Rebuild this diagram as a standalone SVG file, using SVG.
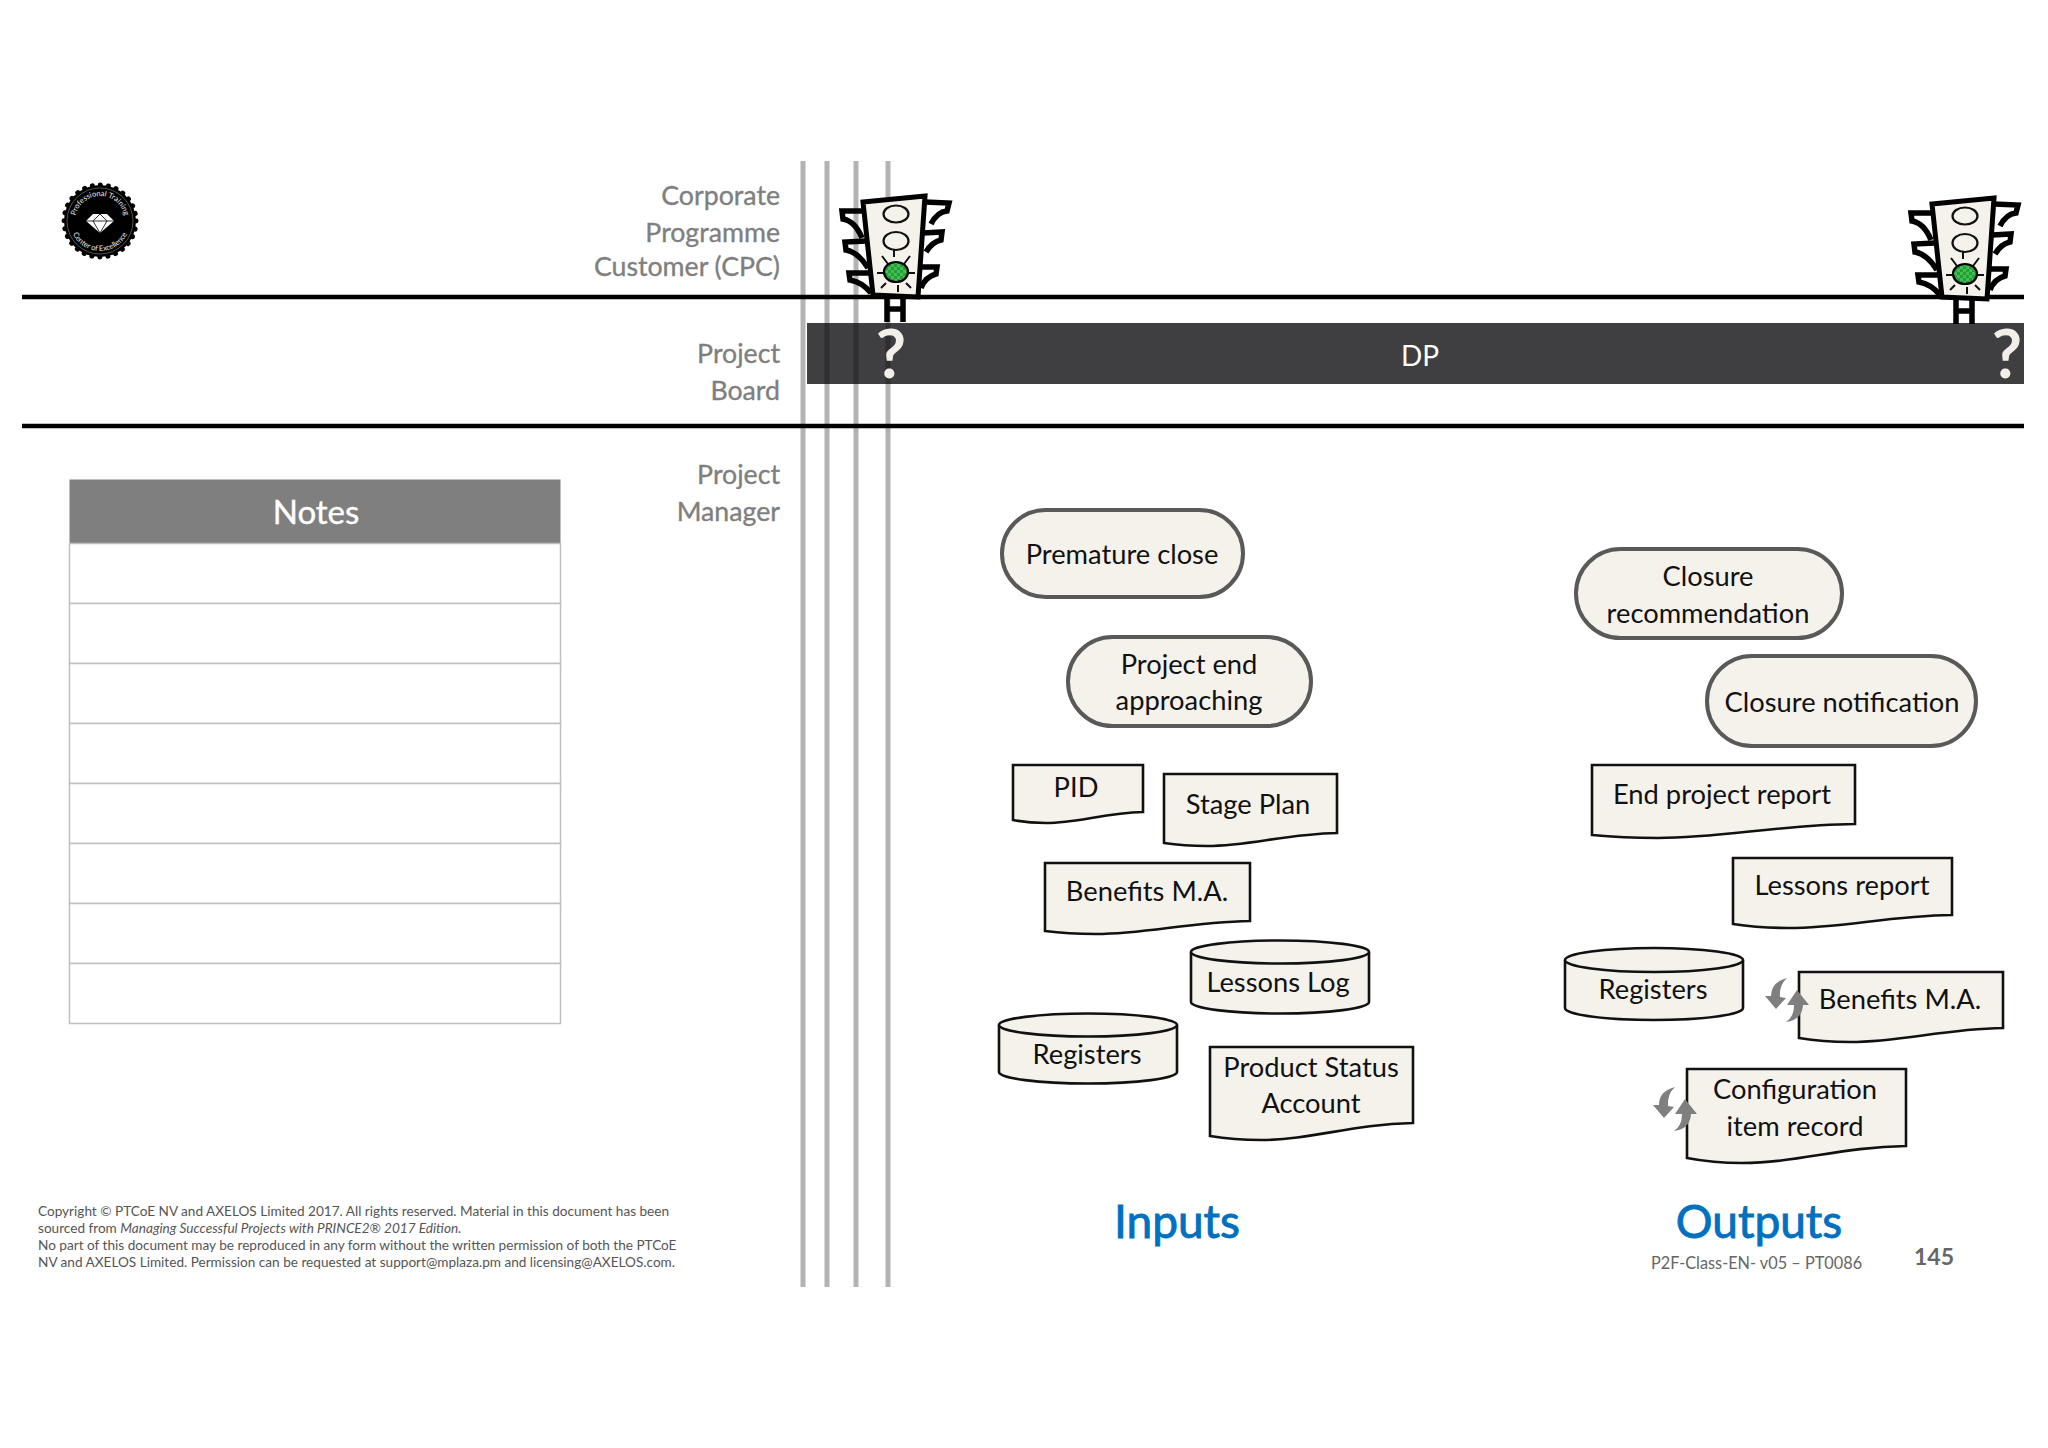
<svg xmlns="http://www.w3.org/2000/svg" xmlns:xlink="http://www.w3.org/1999/xlink" width="2048" height="1448" viewBox="0 0 2048 1448">
<style>
text{font-family:"Lato","Liberation Sans",sans-serif}
.t{font-size:27.3px;fill:#111;text-anchor:middle}
.lab{font-size:26.700px;fill:#7f7f7f;text-anchor:end;stroke:#7f7f7f;stroke-width:.35}
.term{fill:#f5f2ec;stroke:#595959;stroke-width:4}
.doc{fill:#f5f2ec;stroke:#111;stroke-width:2.6}
.big{font-size:46px;fill:#0070c0;text-anchor:middle;stroke:#0070c0;stroke-width:.9}
.copy{font-size:13.6px;fill:#555}
.v{stroke:#b3b3b3;stroke-width:5}
.vd{stroke:#2f2e30;stroke-width:5}
.row{fill:#fff;stroke:#bfbfbf;stroke-width:1.5}
.k{fill:none;stroke:#000;stroke-width:5.5;stroke-linejoin:miter}
.ray{stroke:#111;stroke-width:2;fill:none}
.q{font-size:66px;font-weight:700;fill:#f2efe8;text-anchor:middle}
.rf{fill:#7f7f7f}
</style>
<defs>
<pattern id="chk" width="6" height="6" patternUnits="userSpaceOnUse"><rect width="6" height="6" fill="#3cc24f"/><rect width="3" height="3" fill="#2a9a3c"/><rect x="3" y="3" width="3" height="3" fill="#2a9a3c"/></pattern>
<g id="light">
<path class="k" d="M864,211 L842,211 L843,219 Q855,221 862,238"/>
<path class="k" d="M866,241 L845,242 L846,250 Q858,252 868,268"/>
<path class="k" d="M869,273 L849,273 L850,280 Q862,282 871,293"/>
<path class="k" d="M925,202 L949,203 L947,211 Q937,212 931,224"/>
<path class="k" d="M923,233 L942,232 L941,240 Q932,242 926,252"/>
<path class="k" d="M921,267 L937,267 L936,274 Q925,277 921,288"/>
<path d="M887,297V322M903,297V322M887,309H903" class="k"/>
<path d="M863,202 L925,196 L918,297 L873,295 Z" fill="#f5f2ec" stroke="#000" stroke-width="5"/>
<ellipse cx="896" cy="214" rx="12.5" ry="8.5" fill="#f5f2ec" stroke="#111" stroke-width="2.2"/>
<ellipse cx="896" cy="241" rx="12.5" ry="9" fill="#f5f2ec" stroke="#111" stroke-width="2.2"/>
<path class="ray" d="M894,250V257M882,256L888,264M910,256L904,264M877,273H883M909,273H915M886,283L881,288M906,283L911,288M898,285V292"/>
<ellipse cx="896" cy="272" rx="12" ry="10" fill="url(#chk)" stroke="#000" stroke-width="2.2"/>
</g>
<g id="refresh">
<path class="rf" d="M1788,978 Q1772,982 1772,996 L1766,996 L1777,1009 L1787,998 L1781,997 Q1780,985 1788,978Z"/>
<path class="rf" d="M1798,990 L1788,1005 L1795,1005 Q1795,1017 1787,1022 Q1803,1020 1804,1005 L1810,1005Z"/>
</g>
<path id="arcTop" d="M75,221 A25,25 0 1 1 125,221"/>
<path id="arcBot" d="M70,221 A30,30 0 0 0 130,221"/>
</defs>
<rect width="2048" height="1448" fill="#fff"/>
<g id="lanes">
<path class="v" d="M803,161V1287M827,161V1287M856,161V1287M888,161V1287"/>
<rect x="807" y="323" width="1217" height="61" fill="#3f3e40"/>
<path class="vd" d="M827,323V384M856,323V384M888,323V384"/>
<path d="M22,297H2024M22,426H2024" stroke="#000" stroke-width="4.500"/>
</g>
<g id="logo">
<circle cx="100" cy="221" r="36" fill="#000"/>
<circle cx="100" cy="221" r="36" fill="none" stroke="#000" stroke-width="5" stroke-linecap="round" stroke-dasharray="0.1 7.98"/>
<circle cx="100" cy="221" r="33" fill="none" stroke="#888" stroke-width="0.6"/>
<text font-size="7.500" fill="#eee" text-anchor="middle"><textPath xlink:href="#arcTop" href="#arcTop" startOffset="50%">Professional Training</textPath></text>
<text font-size="7.500" fill="#eee" text-anchor="middle"><textPath xlink:href="#arcBot" href="#arcBot" startOffset="50%">Center of Excellence</textPath></text>
<path d="M93,214H107L114,221L100,233L86,221Z" fill="#fff"/>
<path d="M86,221H114M93,221L100,214L107,221L100,233L93,221" stroke="#000" stroke-width="0.8" fill="none"/>
</g>
<g id="swimlane-labels">
<text class="lab" x="780" y="205">Corporate</text>
<text class="lab" x="780" y="242">Programme</text>
<text class="lab" x="780" y="276">Customer (CPC)</text>
<text class="lab" x="780" y="363">Project</text>
<text class="lab" x="780" y="400">Board</text>
<text class="lab" x="780" y="484">Project</text>
<text class="lab" x="780" y="521">Manager</text>
</g>
<g id="notes">
<rect x="69.500" y="479.500" width="491" height="64" fill="#7f7f7f"/>
<text x="316" y="524" font-size="33" fill="#fff" stroke="#fff" stroke-width=".4" text-anchor="middle">Notes</text>
<rect class="row" x="69.500" y="543.500" width="491" height="60"/>
<rect class="row" x="69.500" y="603.500" width="491" height="60"/>
<rect class="row" x="69.500" y="663.500" width="491" height="60"/>
<rect class="row" x="69.500" y="723.500" width="491" height="60"/>
<rect class="row" x="69.500" y="783.500" width="491" height="60"/>
<rect class="row" x="69.500" y="843.500" width="491" height="60"/>
<rect class="row" x="69.500" y="903.500" width="491" height="60"/>
<rect class="row" x="69.500" y="963.500" width="491" height="60"/>
</g>
<g id="light-start"><use href="#light"/><text class="q" x="891" y="378">?</text></g>
<g id="light-end"><use href="#light" x="1069" y="2"/><text class="q" x="2007" y="378">?</text></g>
<text id="dp" x="1420" y="366" font-size="28" fill="#fff" text-anchor="middle">DP</text>
<g id="premature-close"><rect class="term" x="1002" y="510" width="241" height="87" rx="43.500"/><text class="t" x="1122" y="564">Premature close</text></g>
<g id="project-end"><rect class="term" x="1068" y="637" width="243" height="89" rx="44.500"/><text class="t" x="1189" y="674">Project end</text><text class="t" x="1189" y="710">approaching</text></g>
<g id="closure-recommendation"><rect class="term" x="1576" y="549" width="266" height="89" rx="44.500"/><text class="t" x="1708" y="586">Closure</text><text class="t" x="1708" y="623">recommendation</text></g>
<g id="closure-notification"><rect class="term" x="1707" y="656" width="269" height="90" rx="45"/><text class="t" x="1842" y="712">Closure notification</text></g>
<g id="pid"><path class="doc" d="M1013,765H1143V812C1104,813 1078,823 1046,823Q1028,823 1013,820Z"/><text class="t" x="1076" y="797">PID</text></g>
<g id="stage-plan"><path class="doc" d="M1164,774H1337V833C1285,834 1250,846 1207,846Q1184,846 1164,843Z"/><text class="t" x="1248" y="814">Stage Plan</text></g>
<g id="benefits-in"><path class="doc" d="M1045,863H1250V921C1188,922 1147,934 1096,934Q1068,934 1045,931Z"/><text class="t" x="1147" y="901">Benefits M.A.</text></g>
<g id="lessons-log"><path class="doc" d="M1191,952A89,11.500 0 0 1 1369,952V1002A89,11.500 0 0 1 1191,1002Z"/><path class="doc" d="M1191,952A89,11.500 0 0 0 1369,952"/><text class="t" x="1278" y="992">Lessons Log</text></g>
<g id="registers-in"><path class="doc" d="M999,1025A89,11.500 0 0 1 1177,1025V1072A89,11.500 0 0 1 999,1072Z"/><path class="doc" d="M999,1025A89,11.500 0 0 0 1177,1025"/><text class="t" x="1087" y="1064">Registers</text></g>
<g id="product-status"><path class="doc" d="M1210,1047H1413V1123C1352,1124 1312,1140 1261,1140Q1234,1140 1210,1136Z"/><text class="t" x="1311" y="1077">Product Status</text><text class="t" x="1311" y="1113">Account</text></g>
<g id="end-project-report"><path class="doc" d="M1592,765H1855V824C1776,825 1723,838 1658,838Q1623,838 1592,835Z"/><text class="t" x="1722" y="804">End project report</text></g>
<g id="lessons-report"><path class="doc" d="M1733,858H1952V915C1887,916 1843,928 1788,928Q1759,928 1733,924Z"/><text class="t" x="1842" y="895">Lessons report</text></g>
<g id="registers-out"><path class="doc" d="M1565,960A89,12 0 0 1 1743,960V1008A89,12 0 0 1 1565,1008Z"/><path class="doc" d="M1565,960A89,12 0 0 0 1743,960"/><text class="t" x="1653" y="999">Registers</text></g>
<g id="benefits-out"><path class="doc" d="M1799,972H2003V1028C1942,1029 1902,1042 1850,1042Q1823,1042 1799,1038Z"/><text class="t" x="1900" y="1009">Benefits M.A.</text></g>
<g id="config-item"><path class="doc" d="M1687,1069H1906V1146C1841,1147 1797,1163 1742,1163Q1713,1163 1687,1158Z"/><text class="t" x="1795" y="1099">Configuration</text><text class="t" x="1795" y="1136">item record</text></g>
<g id="refresh-icons"><use href="#refresh" x="-1"/><use href="#refresh" x="-113" y="109"/></g>
<g id="footer">
<text class="big" x="1177" y="1238">Inputs</text>
<text class="big" x="1759" y="1238">Outputs</text>
<text x="1651" y="1269" font-size="16.300" fill="#666">P2F-Class-EN- v05 – PT0086</text>
<text x="1934" y="1265" font-size="23" fill="#666" text-anchor="middle" font-weight="700">145</text>
<text class="copy" x="38" y="1216">Copyright © PTCoE NV and AXELOS Limited 2017. All rights reserved. Material in this document has been</text>
<text class="copy" x="38" y="1233">sourced from <tspan font-style="italic">Managing Successful Projects with PRINCE2® 2017 Edition.</tspan></text>
<text class="copy" x="38" y="1250">No part of this document may be reproduced in any form without the written permission of both the PTCoE</text>
<text class="copy" x="38" y="1267">NV and AXELOS Limited. Permission can be requested at support@mplaza.pm and licensing@AXELOS.com.</text>
</g>
</svg>
